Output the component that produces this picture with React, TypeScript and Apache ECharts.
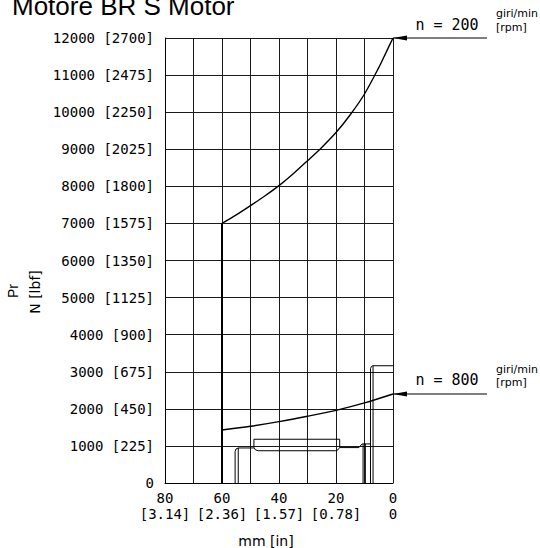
import React, { useEffect, useRef } from 'react';
import * as echarts from 'echarts';

const TITLE = 'Motore BR S Motor';

// X axis (mm, inverted) tick labels
const xTicksMm = [80, 60, 40, 20, 0];
const xTicksIn = ['[3.14]', '[2.36]', '[1.57]', '[0.78]', '0'];

// Y axis (N) tick labels with lbf
const yTicksN = [0, 1000, 2000, 3000, 4000, 5000, 6000, 7000, 8000, 9000, 10000, 11000, 12000];
const yTicksLbf = ['', '[225]', '[450]', '[675]', '[900]', '[1125]', '[1350]', '[1575]', '[1800]', '[2025]', '[2250]', '[2475]', '[2700]'];

// n = 200 rpm curve
const n200Mm = [60, 55, 50, 45, 40, 35, 30, 25, 20, 15, 10, 5, 2.5, 0];
const n200N = [7000, 7230, 7480, 7740, 8020, 8340, 8690, 9050, 9450, 9930, 10490, 11200, 11600, 12000];

// n = 800 rpm curve
const n800Mm = [60, 50, 40, 30, 20, 10, 0];
const n800N = [1430, 1530, 1655, 1800, 1960, 2160, 2400];

// Limit line at 60 mm
const limitMm = [60, 60];
const limitN = [0, 7000];

// Arrows (from outside the plot to the chart edge): [tip, tail]
const arrow200 = [[0, 12000], [-33, 12000]];
const arrow800 = [[0, 2400], [-33, 2400]];

// Shaft drawing outlines (mm, N)
const shaftLeftOuter = [[55.4, 0], [55.4, 850], [55.1, 915], [54.3, 945], [48.8, 945]];
const shaftLeftInner = [[54.3, 0], [54.3, 945]];
const shaftKey = [[48.8, 1180], [18.7, 1180], [18.7, 960], [19.3, 895], [20.2, 870], [47.3, 870], [48.3, 895], [48.8, 960], [48.8, 1180]];
const shaftRightTop = [[18.7, 955], [11.95, 955], [11.3, 1020], [10.75, 1054], [7.9, 1054]];
const shaftRightV1 = [[10.5, 0], [10.5, 1054]];
const shaftRightV2 = [[9.7, 0], [9.7, 1054]];
const shaftEndOuter = [[7.9, 0], [7.9, 3080], [7.6, 3140], [7.1, 3162], [0, 3162]];
const shaftEndInner = [[7.0, 0], [7.0, 3162]];

const shaftLines = [shaftLeftOuter, shaftLeftInner, shaftKey, shaftRightTop, shaftRightV1, shaftRightV2, shaftEndOuter, shaftEndInner];

const zip = (a: number[], b: number[]) => a.map((v, i) => [v, b[i]]);

const MONO = '"DejaVu Sans Mono"';
const SANS = '"DejaVu Sans"';
const ARIAL = '"Liberation Sans", Arial';

export default function App() {
  const ref = useRef<HTMLDivElement>(null);
  useEffect(() => {
    if (!ref.current) return;
    const chart = echarts.init(ref.current, null, { renderer: 'svg' });

    const staticGraphic: any[] = [
      {
        type: 'text',
        x: 12,
        y: 6,
        style: { text: TITLE, fontFamily: ARIAL, fontSize: 26, fill: '#000', align: 'left', verticalAlign: 'middle' },
      },
      {
        type: 'text',
        x: 13,
        y: 291,
        rotation: Math.PI / 2,
        style: { text: 'Pr', fontFamily: ARIAL, fontSize: 14, fill: '#000', align: 'center', verticalAlign: 'middle' },
      },
      {
        type: 'text',
        x: 35,
        y: 292,
        rotation: Math.PI / 2,
        style: { text: 'N [lbf]', fontFamily: SANS, fontSize: 14, fill: '#000', align: 'center', verticalAlign: 'middle' },
      },
      {
        type: 'text',
        x: 266,
        y: 541,
        style: { text: 'mm [in]', fontFamily: SANS, fontSize: 14, fill: '#000', align: 'center', verticalAlign: 'middle' },
      },
      {
        type: 'text',
        x: 447,
        y: 25,
        style: { text: 'n = 200', fontFamily: MONO, fontSize: 15, fill: '#000', align: 'center', verticalAlign: 'middle' },
      },
      {
        type: 'text',
        x: 496,
        y: 13,
        style: { text: 'giri/min', fontFamily: SANS, fontSize: 11, fill: '#000', align: 'left', verticalAlign: 'middle' },
      },
      {
        type: 'text',
        x: 496,
        y: 27,
        style: { text: '[rpm]', fontFamily: SANS, fontSize: 11, fill: '#000', align: 'left', verticalAlign: 'middle' },
      },
      {
        type: 'text',
        x: 447,
        y: 380,
        style: { text: 'n = 800', fontFamily: MONO, fontSize: 15, fill: '#000', align: 'center', verticalAlign: 'middle' },
      },
      {
        type: 'text',
        x: 496,
        y: 369,
        style: { text: 'giri/min', fontFamily: SANS, fontSize: 11, fill: '#000', align: 'left', verticalAlign: 'middle' },
      },
      {
        type: 'text',
        x: 496,
        y: 382,
        style: { text: '[rpm]', fontFamily: SANS, fontSize: 11, fill: '#000', align: 'left', verticalAlign: 'middle' },
      },
    ];

    const option: any = {
      animation: false,
      grid: { left: 165, top: 38, right: 147, bottom: 65 },
      xAxis: {
        type: 'value',
        min: 0,
        max: 80,
        interval: 10,
        inverse: true,
        axisLine: { show: true, onZero: false, lineStyle: { color: '#000', width: 1 } },
        axisTick: { show: false },
        splitLine: { show: true, lineStyle: { color: '#1a1a1a', width: 1 } },
        axisLabel: {
          margin: 7,
          color: '#000',
          fontFamily: MONO,
          fontSize: 14,
          lineHeight: 16,
          formatter: (v: number) => {
            const i = xTicksMm.indexOf(v);
            return i >= 0 ? `${xTicksMm[i]}\n${xTicksIn[i]}` : '';
          },
        },
      },
      yAxis: {
        type: 'value',
        min: 0,
        max: 12000,
        interval: 1000,
        axisLine: { show: true, onZero: false, lineStyle: { color: '#000', width: 1 } },
        axisTick: { show: false },
        splitLine: { show: true, lineStyle: { color: '#1a1a1a', width: 1 } },
        axisLabel: {
          margin: 11,
          color: '#000',
          fontFamily: MONO,
          fontSize: 14,
          formatter: (v: number) => {
            const i = yTicksN.indexOf(v);
            if (i < 0) return '';
            return yTicksLbf[i] ? `${yTicksN[i]} ${yTicksLbf[i]}` : `${yTicksN[i]}`;
          },
        },
      },
      series: [
        {
          type: 'line',
          data: zip(n200Mm, n200N),
          smooth: 0.3,
          symbol: 'none',
          lineStyle: { color: '#000', width: 1.4 },
          z: 4,
        },
        {
          type: 'line',
          data: zip(n800Mm, n800N),
          smooth: 0.3,
          symbol: 'none',
          lineStyle: { color: '#000', width: 1.4 },
          z: 4,
        },
        {
          type: 'line',
          data: zip(limitMm, limitN),
          symbol: 'none',
          lineStyle: { color: '#000', width: 2 },
          z: 4,
        },
        ...shaftLines.map((pts) => ({
          type: 'line',
          data: pts,
          symbol: 'none',
          lineStyle: { color: '#000', width: 1 },
          z: 3,
        })),
      ],
      graphic: staticGraphic,
    };
    chart.setOption(option);

    // Arrows: positions come from the chart's own scales
    const arrowGraphic = (pts: number[][]) => {
      const tip = chart.convertToPixel({ gridIndex: 0 }, pts[0]) as number[];
      const tail = chart.convertToPixel({ gridIndex: 0 }, pts[1]) as number[];
      return [
        {
          type: 'line',
          shape: { x1: tip[0], y1: tip[1], x2: tail[0], y2: tail[1] },
          style: { stroke: '#000', lineWidth: 1.2 },
          z: 10,
        },
        {
          type: 'polygon',
          shape: { points: [[tip[0], tip[1]], [tip[0] + 14, tip[1] - 2.6], [tip[0] + 14, tip[1] + 2.6]] },
          style: { fill: '#000' },
          z: 10,
        },
      ];
    };
    chart.setOption({
      graphic: [...staticGraphic, ...arrowGraphic(arrow200), ...arrowGraphic(arrow800)],
    });

    return () => chart.dispose();
  }, []);

  return (
    <div
      ref={ref}
      style={{ position: 'fixed', left: 0, top: 0, width: 540, height: 548, background: '#fff' }}
    />
  );
}
